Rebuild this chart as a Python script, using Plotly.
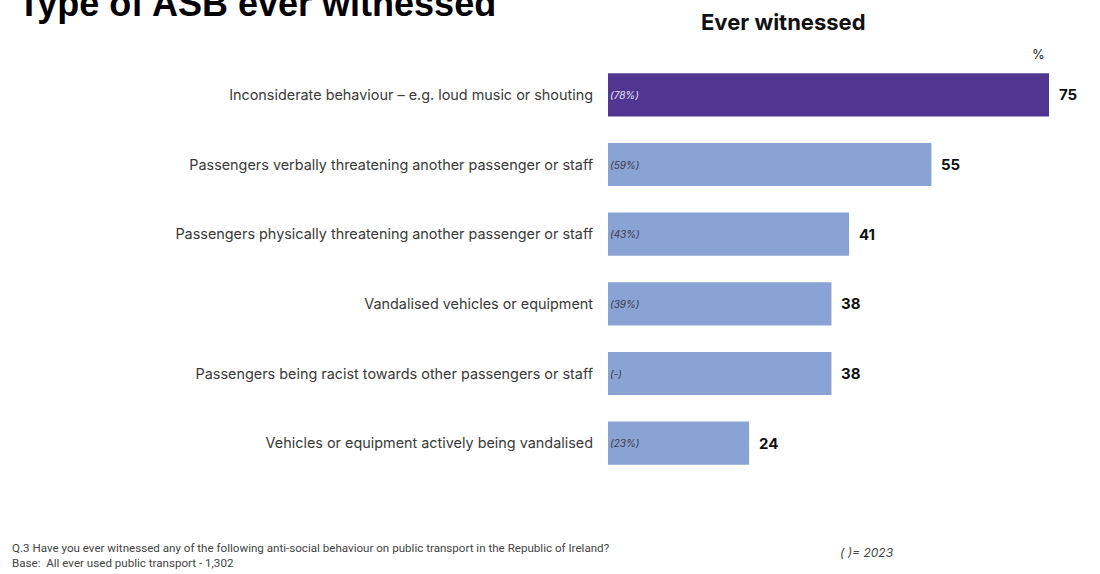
import plotly.graph_objects as go

categories = [
    "Inconsiderate behaviour – e.g. loud music or shouting",
    "Passengers verbally threatening another passenger or staff",
    "Passengers physically threatening another passenger or staff",
    "Vandalised vehicles or equipment",
    "Passengers being racist towards other passengers or staff",
    "Vehicles or equipment actively being vandalised",
]
values = [75, 55, 41, 38, 38, 24]
prior_2023 = ["(78%)", "(59%)", "(43%)", "(39%)", "(-)", "(23%)"]

PURPLE = "#513691"
LIGHT = "#8aa3d5"
colors = [PURPLE] + [LIGHT] * (len(values) - 1)
inner_colors = ["#e6e0f2"] + ["#3a3a4a"] * (len(values) - 1)

FONT = "Inter"

fig = go.Figure(
    go.Bar(
        x=values,
        y=categories,
        orientation="h",
        marker=dict(color=colors, line=dict(width=0)),
        width=0.62,
        hoverinfo="skip",
    )
)

annotations = []
for cat, v in zip(categories, values):
    annotations.append(dict(
        x=v, y=cat, xref="x", yref="y", text=f"<b>{v}</b>",
        xanchor="left", yanchor="middle", xshift=8, showarrow=False,
        font=dict(family=FONT, size=15, color="#111111"),
    ))
for cat, t, c in zip(categories, prior_2023, inner_colors):
    annotations.append(dict(
        x=0, y=cat, xref="x", yref="y", text=f"<i>{t}</i>",
        xanchor="left", yanchor="middle", xshift=0, showarrow=False,
        font=dict(family=FONT, size=10, color=c),
    ))

H = 574
T, B = 60, 96
PH = H - T - B


def py(pixel_y):
    return (H - B - pixel_y) / PH


W = 1100
L, R = 608, 10
PW = W - L - R


def px(pixel_x):
    return (pixel_x - L) / PW


annotations += [
    dict(x=px(16), y=py(4), xref="paper", yref="paper", xanchor="left", yanchor="middle",
         text="<b>Type of ASB ever witnessed</b>", showarrow=False,
         font=dict(family="Liberation Sans", size=36, color="#000000")),
    dict(x=px(783), y=py(22), xref="paper", yref="paper", xanchor="center", yanchor="middle",
         text="<b>Ever witnessed</b>", showarrow=False,
         font=dict(family=FONT, size=22, color="#111111")),
    dict(x=px(1038), y=py(54), xref="paper", yref="paper", xanchor="center", yanchor="middle",
         text="%", showarrow=False,
         font=dict(family=FONT, size=13, color="#222222")),
    dict(x=px(10), y=py(555), xref="paper", yref="paper", xanchor="left", yanchor="middle",
         align="left",
         text="Q.3 Have you ever witnessed any of the following anti-social behaviour on public transport in the Republic of Ireland?<br>Base:  All ever used public transport - 1,302",
         showarrow=False, font=dict(family="Roboto", size=11.6, color="#444444")),
    dict(x=px(838), y=py(552), xref="paper", yref="paper", xanchor="left", yanchor="middle",
         text="<i>( )= 2023</i>", showarrow=False,
         font=dict(family=FONT, size=12, color="#444444")),
]

fig.update_layout(
    width=W, height=H,
    margin=dict(l=L, r=R, t=T, b=B),
    paper_bgcolor="white", plot_bgcolor="white",
    showlegend=False,
    annotations=annotations,
    xaxis=dict(range=[0, PW / 5.88], visible=False, fixedrange=True),
    yaxis=dict(
        categoryorder="array", categoryarray=categories,
        range=[len(categories) - 0.5, -0.5],
        showgrid=False, zeroline=False, showline=False, ticks="",
        ticklabelstandoff=14,
        tickfont=dict(family=FONT, size=14.4, color="#3a3a3a"),
        fixedrange=True,
    ),
)

fig.write_html("out.html")
